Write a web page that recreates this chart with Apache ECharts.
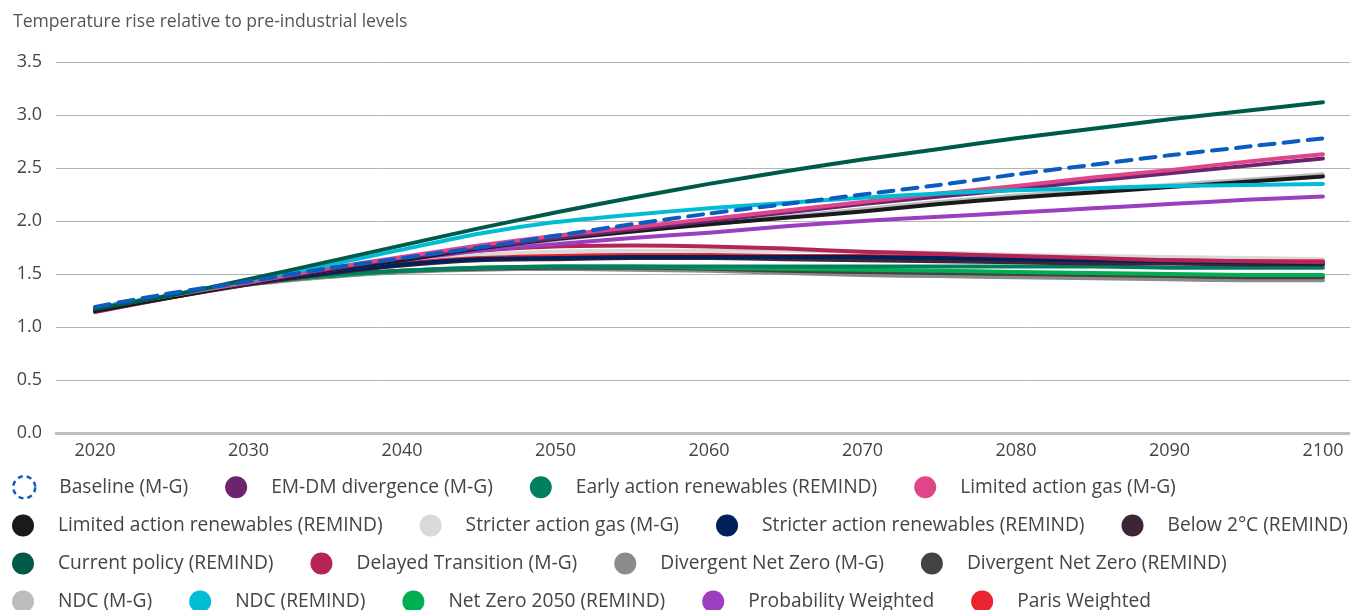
<!DOCTYPE html>
<html>
<head>
<meta charset="utf-8">
<script src="https://cdn.jsdelivr.net/npm/echarts@6/dist/echarts.min.js"></script>
<style>
html,body{margin:0;padding:0;background:#fff;}
#chart{width:1350px;height:610px;}
</style>
</head>
<body>
<div id="chart"></div>
<script>
const years = [2020,2025,2030,2035,2040,2045,2050,2055,2060,2065,2070,2075,2080,2085,2090,2095,2100];
const xTickLabels = [2020,2030,2040,2050,2060,2070,2080,2090,2100];
const yTicks = [0,0.5,1,1.5,2,2.5,3,3.5];

const baseline      = [1.19,1.32,1.43,1.55,1.65,1.75,1.86,1.97,2.07,2.16,2.25,2.34,2.44,2.53,2.62,2.70,2.78];
const emdm          = [1.18,1.30,1.42,1.54,1.65,1.75,1.84,1.92,2.00,2.08,2.16,2.23,2.30,2.38,2.45,2.52,2.59];
const earlyAction   = [1.17,1.29,1.41,1.49,1.53,1.56,1.57,1.57,1.57,1.57,1.57,1.57,1.57,1.57,1.56,1.56,1.56];
const limitedGas    = [1.18,1.30,1.42,1.55,1.66,1.77,1.86,1.94,2.02,2.10,2.18,2.26,2.33,2.41,2.48,2.56,2.63];
const limitedRenew  = [1.15,1.28,1.41,1.53,1.63,1.74,1.83,1.90,1.97,2.03,2.09,2.16,2.22,2.27,2.32,2.37,2.42];
const stricterGas   = [1.17,1.29,1.41,1.52,1.62,1.68,1.71,1.72,1.72,1.72,1.71,1.70,1.68,1.67,1.66,1.65,1.64];
const stricterRenew = [1.16,1.29,1.41,1.51,1.59,1.64,1.65,1.66,1.66,1.66,1.66,1.65,1.64,1.63,1.62,1.61,1.60];
const below2        = [1.16,1.28,1.40,1.50,1.58,1.63,1.64,1.65,1.65,1.64,1.63,1.62,1.61,1.60,1.60,1.59,1.59];
const currentPolicy = [1.17,1.30,1.45,1.61,1.77,1.93,2.08,2.22,2.35,2.47,2.58,2.68,2.78,2.87,2.96,3.04,3.12];
const delayed       = [1.14,1.28,1.41,1.53,1.64,1.72,1.76,1.77,1.76,1.74,1.71,1.69,1.67,1.65,1.63,1.62,1.61];
const divNZMG       = [1.17,1.29,1.40,1.47,1.52,1.54,1.55,1.54,1.53,1.51,1.49,1.48,1.47,1.46,1.45,1.44,1.44];
const divNZRemind   = [1.17,1.29,1.41,1.48,1.53,1.55,1.56,1.56,1.55,1.53,1.52,1.51,1.50,1.49,1.48,1.47,1.47];
const ndcMG         = [1.17,1.29,1.41,1.53,1.63,1.73,1.82,1.90,1.97,2.04,2.11,2.18,2.24,2.29,2.34,2.39,2.44];
const ndcRemind     = [1.18,1.30,1.44,1.58,1.73,1.88,1.99,2.06,2.12,2.17,2.22,2.26,2.29,2.31,2.33,2.34,2.35];
const netZero       = [1.17,1.29,1.41,1.48,1.53,1.56,1.57,1.57,1.56,1.55,1.54,1.53,1.52,1.51,1.50,1.49,1.49];
const probWeighted  = [1.17,1.29,1.42,1.53,1.63,1.72,1.78,1.84,1.89,1.95,2.00,2.04,2.08,2.12,2.16,2.20,2.23];
const parisWeighted = [1.17,1.29,1.41,1.52,1.60,1.65,1.67,1.68,1.68,1.67,1.67,1.66,1.65,1.64,1.63,1.62,1.62];

const names = {
  baseline:'Baseline (M-G)', emdm:'EM-DM divergence (M-G)', earlyAction:'Early action renewables (REMIND)',
  limitedGas:'Limited action gas (M-G)', limitedRenew:'Limited action renewables (REMIND)',
  stricterGas:'Stricter action gas (M-G)', stricterRenew:'Stricter action renewables (REMIND)',
  below2:'Below 2°C (REMIND)', currentPolicy:'Current policy (REMIND)', delayed:'Delayed Transition (M-G)',
  divNZMG:'Divergent Net Zero (M-G)', divNZRemind:'Divergent Net Zero (REMIND)', ndcMG:'NDC (M-G)',
  ndcRemind:'NDC (REMIND)', netZero:'Net Zero 2050 (REMIND)', probWeighted:'Probability Weighted', parisWeighted:'Paris Weighted'
};
const colors = {
  baseline:'#0a5cc0', emdm:'#6b2470', earlyAction:'#00805e', limitedGas:'#e0458a', limitedRenew:'#1a1a1a',
  stricterGas:'#d9d9d5', stricterRenew:'#00205b', below2:'#3d2538', currentPolicy:'#005a4a', delayed:'#b52457',
  divNZMG:'#8a8c8c', divNZRemind:'#454243', ndcMG:'#bcbcbc', ndcRemind:'#00bcd4', netZero:'#00b050',
  probWeighted:'#9b3fc0', parisWeighted:'#e8242f'
};
const dataMap = {baseline, emdm, earlyAction, limitedGas, limitedRenew, stricterGas, stricterRenew, below2,
  currentPolicy, delayed, divNZMG, divNZRemind, ndcMG, ndcRemind, netZero, probWeighted, parisWeighted};

const drawOrder = ['divNZMG','divNZRemind','netZero','earlyAction','ndcMG','stricterGas','parisWeighted','below2',
  'stricterRenew','delayed','probWeighted','limitedRenew','emdm','limitedGas','ndcRemind','currentPolicy','baseline'];
const legendRows = [
  ['baseline','emdm','earlyAction','limitedGas'],
  ['limitedRenew','stricterGas','stricterRenew','below2'],
  ['currentPolicy','delayed','divNZMG','divNZRemind'],
  ['ndcMG','ndcRemind','netZero','probWeighted','parisWeighted']
];
const rowCenters = [486,525.5,563.5,601.5];

const FONT = 'Open Sans';
const series = drawOrder.map(k => ({
  name: names[k], type:'line', symbol:'none', smooth:0.2,
  color: colors[k],
  itemStyle:{color: colors[k]},
  lineStyle:{color: colors[k], width:4, cap:'round', join:'round', type: k==='baseline' ? [15,9] : 'solid'},
  data: years.map((y,i)=>[y, dataMap[k][i]]),
  z: k==='baseline' ? 3 : 2,
  emphasis:{disabled:true}
}));

const legends = legendRows.map((row,ri)=>({
  left: 12, top: rowCenters[ri]-11, padding:0, orient:'horizontal', width:1340,
  itemWidth:22, itemHeight:22, itemGap:37, icon:'circle',
  textStyle:{fontFamily:FONT, fontSize:19.2, color:'#444', padding:[0,0,0,19]},
  data: row.map(k => k==='baseline'
    ? {name:names[k], icon:'circle', itemStyle:{color:'rgba(0,0,0,0)', borderColor:colors[k], borderWidth:2.5, borderType:[5,4]}}
    : {name:names[k]})
}));

const chart = echarts.init(document.getElementById('chart'), null, {renderer:'canvas'});
chart.setOption({
  animation:false,
  title:{text:'Temperature rise relative to pre-industrial levels', left:13, top:13, padding:0,
    textStyle:{fontFamily:FONT, fontSize:17.6, fontWeight:'normal', color:'#555'}},
  legend: legends,
  grid:{left:56, right:0, top:62, bottom:177, containLabel:false},
  xAxis:{type:'value', min:2017.46, max:2101.76,
    axisLine:{show:true, lineStyle:{color:'#bdbdbd', width:3}},
    axisTick:{show:false},
    splitLine:{show:false},
    axisLabel:{customValues:xTickLabels, fontFamily:FONT, fontSize:18, color:'#444', margin:9, formatter:v=>String(v)}
  },
  yAxis:{type:'value', min:yTicks[0], max:yTicks[yTicks.length-1], interval:0.5,
    axisLine:{show:false}, axisTick:{show:false},
    splitLine:{lineStyle:{color:'#b4b4b4', width:1}},
    axisLabel:{fontFamily:FONT, fontSize:18, color:'#444', margin:14, formatter:v=>v.toFixed(1)}
  },
  series
});
</script>
</body>
</html>
